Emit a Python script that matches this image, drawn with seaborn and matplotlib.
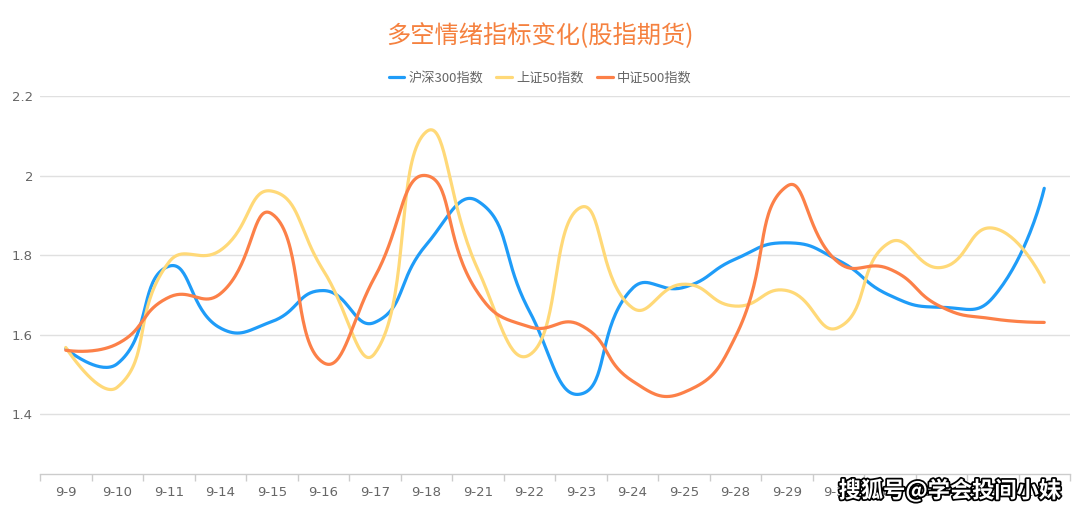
import numpy as np
import pandas as pd
import matplotlib
matplotlib.use("Agg")
import matplotlib.pyplot as plt
import matplotlib.patheffects as pe
from matplotlib.lines import Line2D
import seaborn as sns

# ---- data ----
dates = ['9-9', '9-10', '9-11', '9-14', '9-15', '9-16', '9-17', '9-18', '9-21', '9-22',
         '9-23', '9-24', '9-25', '9-28', '9-29', '9-30', '10-9', '10-12', '10-13', '10-14']
hs300 = [1.565, 1.527, 1.772, 1.617, 1.633, 1.711, 1.631, 1.826, 1.936, 1.660,
         1.451, 1.716, 1.719, 1.790, 1.831, 1.787, 1.699, 1.669, 1.693, 1.968]
sz50 = [1.568, 1.468, 1.782, 1.812, 1.961, 1.762, 1.553, 2.110, 1.765, 1.549,
        1.920, 1.668, 1.727, 1.672, 1.711, 1.618, 1.832, 1.769, 1.868, 1.732]
zz500 = [1.561, 1.577, 1.694, 1.703, 1.904, 1.530, 1.745, 2.000, 1.706, 1.620,
         1.624, 1.484, 1.455, 1.594, 1.973, 1.782, 1.765, 1.670, 1.640, 1.631]
series_names = ['沪深300指数', '上证50指数', '中证500指数']
colors = ['#1f9cf8', '#ffd978', '#fc8048']

sns.set_theme(style="white")
plt.rcParams['font.family'] = ['Noto Sans CJK SC', 'DejaVu Sans']

fig = plt.figure(figsize=(10.8, 5.13), dpi=100)
ax = fig.add_axes([40/1080, 1-474/513, 1030/1080, (474-96)/513])

YMIN, YMAX = 1.25, 2.2
XS, YSC = 51.5, 397.5  # pixel scale used for smoothing geometry


def smooth_curve(xv, yv, smooth=0.5, nseg=40):
    px = np.asarray(xv, float) * XS
    py = np.asarray(yv, float) * YSC
    n = len(px)
    cps_in, cps_out = [], []
    for i in range(n):
        pi = max(i - 1, 0)
        ni = min(i + 1, n - 1)
        vx, vy = px[ni] - px[pi], py[ni] - py[pi]
        l0 = np.hypot(px[i] - px[pi], py[i] - py[pi])
        l1 = np.hypot(px[ni] - px[i], py[ni] - py[i])
        r = 0.5 if (l0 + l1) == 0 else l1 / (l0 + l1)
        cps_in.append((px[i] - vx * smooth * (1 - r), py[i] - vy * smooth * (1 - r)))
        cps_out.append((px[i] + vx * smooth * r, py[i] + vy * smooth * r))
    outx, outy = [], []
    t = np.linspace(0, 1, nseg)
    for i in range(n - 1):
        p0 = np.array([px[i], py[i]])
        c0 = np.array(cps_out[i]) if i > 0 else p0
        p1 = np.array([px[i + 1], py[i + 1]])
        c1 = np.array(cps_in[i + 1]) if i + 1 < n - 1 else p1
        b = ((1 - t)[:, None] ** 3 * p0 + 3 * ((1 - t) ** 2 * t)[:, None] * c0
             + 3 * ((1 - t) * t ** 2)[:, None] * c1 + (t ** 3)[:, None] * p1)
        outx.extend(b[:, 0] / XS)
        outy.extend(b[:, 1] / YSC)
    return np.array(outx), np.array(outy)


xidx = np.arange(len(dates))
for name, vals, col in zip(series_names, [hs300, sz50, zz500], colors):
    sx, sy = smooth_curve(xidx, vals)
    df = pd.DataFrame({'x': sx, 'y': sy})
    sns.lineplot(data=df, x='x', y='y', ax=ax, sort=False, estimator=None,
                 color=col, linewidth=2.3, solid_capstyle='round')

ax.set_xlim(-0.5, len(dates) - 0.5)
ax.set_ylim(YMIN, YMAX)
ax.set_xlabel('')
ax.set_ylabel('')

yt = [1.4, 1.6, 1.8, 2.0, 2.2]
ax.set_yticks(yt)
ax.set_yticklabels(['1.4', '1.6', '1.8', '2', '2.2'], family='DejaVu Sans')
ax.yaxis.grid(True, color='#e0e0e0', linewidth=1)
ax.xaxis.grid(False)
ax.set_xticks(xidx)
ax.set_xticklabels(dates, family='DejaVu Sans')
ax.set_xticks(np.arange(-0.5, len(dates)), minor=True)
ax.tick_params(axis='x', which='major', length=0, pad=9, labelsize=9.5, labelcolor='#666666')
ax.tick_params(axis='x', which='minor', length=5, color='#cccccc', width=1, direction='out', bottom=True)
ax.tick_params(axis='y', length=0, pad=5, labelsize=9.5, labelcolor='#666666')
for s in ['top', 'right', 'left']:
    ax.spines[s].set_visible(False)
ax.spines['bottom'].set_color('#cccccc')
ax.spines['bottom'].set_linewidth(1)

fig.text(0.5, 1 - 36/513, '多空情绪指标变化(股指期货)', ha='center', va='center',
         fontsize=17.5, color='#f5813f')

handles = [Line2D([0], [0], color=c, linewidth=2.3) for c in colors]
leg = fig.legend(handles, series_names, loc='center', bbox_to_anchor=(0.5, 1 - 78/513),
                 ncol=3, frameon=False, handlelength=1.2, handletextpad=0.3,
                 columnspacing=1.0, fontsize=9.5)
for t in leg.get_texts():
    t.set_color('#666666')

fig.text(950/1080, 1 - 491/513, '搜狐号@学会投间小妹', ha='center', va='center',
         fontsize=16, fontweight='bold', color='white',
         path_effects=[pe.withStroke(linewidth=2.5, foreground='black')])

fig.savefig('out.png', dpi=100, facecolor='white')
